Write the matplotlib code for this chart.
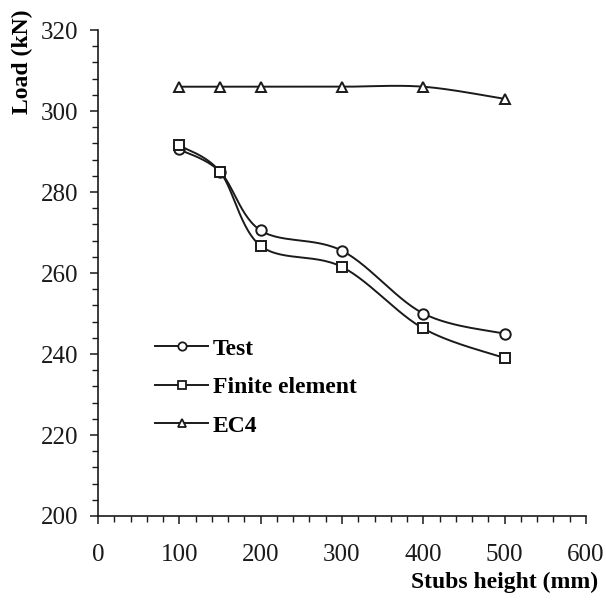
import numpy as np
import matplotlib.pyplot as plt
from matplotlib.ticker import MultipleLocator

plt.rcParams['font.family'] = ['Liberation Serif', 'DejaVu Serif']

# stub heights (mm) and loads (kN)
height = [100, 150, 200, 300, 400, 500]
test = [290.5, 285, 270.5, 265.5, 250, 245]
fem = [291.5, 285, 266.7, 261.5, 246.3, 239]
ec4 = [306, 306, 306, 306, 306, 303]


def smooth(x, y, n=30):
    # cubic bezier through the points, Catmull-Rom style control points
    x = np.asarray(x, float)
    y = np.asarray(y, float)
    px = np.concatenate([[x[0]], x, [x[-1]]])
    py = np.concatenate([[y[0]], y, [y[-1]]])
    xs, ys = [], []
    t = np.linspace(0, 1, n)
    for i in range(1, len(x)):
        p0 = np.array([px[i], py[i]])
        p3 = np.array([px[i + 1], py[i + 1]])
        c1 = p0 + (np.array([px[i + 1], py[i + 1]]) - np.array([px[i - 1], py[i - 1]])) / 6
        c2 = p3 - (np.array([px[i + 2], py[i + 2]]) - np.array([px[i], py[i]])) / 6
        b = (np.outer((1 - t) ** 3, p0) + np.outer(3 * (1 - t) ** 2 * t, c1)
             + np.outer(3 * (1 - t) * t ** 2, c2) + np.outer(t ** 3, p3))
        xs.extend(b[:, 0])
        ys.extend(b[:, 1])
    return xs, ys


fig = plt.figure(figsize=(6.06, 6.04), dpi=100)
ax = fig.add_axes([0.1617, 0.1457, 0.8053, 0.8046])

col = '#1a1a1a'
series = [(test, 'o', 'Test'), (fem, 's', 'Finite element'), (ec4, '^', 'EC4')]
for vals, mk, name in series:
    sx, sy = smooth(height, vals)
    ax.plot(sx, sy, color=col, lw=1.4)
    ax.plot(height, vals, ls='none', marker=mk, ms=7.5, mfc='white',
            mec=col, mew=1.4)
    # legend proxy
    ax.plot([], [], color=col, lw=1.4, marker=mk, ms=6, mfc='white',
            mec=col, mew=1.3, label=name)

ax.set_xlim(0, 600)
ax.set_ylim(200, 320)
ax.xaxis.set_major_locator(MultipleLocator(100))
ax.xaxis.set_minor_locator(MultipleLocator(20))
ax.yaxis.set_major_locator(MultipleLocator(20))
ax.yaxis.set_minor_locator(MultipleLocator(4))
ax.tick_params(which='major', direction='out', length=6, width=1.1, labelsize=18,
               colors=col)
ax.tick_params(which='minor', direction='out', length=4, width=1, colors=col)
ax.tick_params(axis='x', which='major', pad=14)
ax.tick_params(axis='y', which='major', pad=8)

for s in ['top', 'right']:
    ax.spines[s].set_visible(False)
for s in ['left', 'bottom']:
    ax.spines[s].set_linewidth(1.2)
    ax.spines[s].set_color(col)

ax.set_xlabel('Stubs height (mm)', fontsize=17, fontweight='bold', ha='right', va='center')
ax.xaxis.set_label_coords(1.025, -0.136)
ax.set_ylabel('Load (kN)', fontsize=17, fontweight='bold', ha='center', va='center')
ax.yaxis.set_label_coords(-0.155, 0.935)

ax.legend(loc='upper left', bbox_to_anchor=(0.117, 0.366), frameon=False,
          borderpad=0, borderaxespad=0, numpoints=1, handlelength=2.25,
          handletextpad=0.2, labelspacing=0.72,
          prop={'weight': 'bold', 'size': 17})

fig.savefig('out.png', dpi=100)
